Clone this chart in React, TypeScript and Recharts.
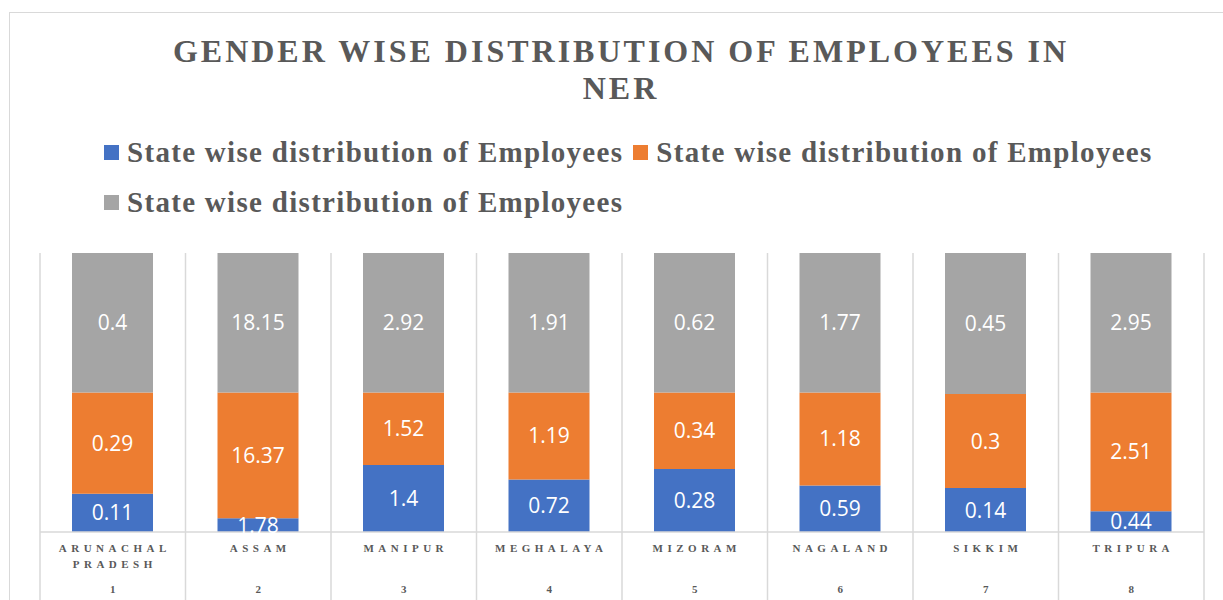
import React from "react"
import { Bar, BarChart, LabelList, Legend, XAxis, YAxis } from "recharts"

const states = ["ARUNACHAL PRADESH", "ASSAM", "MANIPUR", "MEGHALAYA", "MIZORAM", "NAGALAND", "SIKKIM", "TRIPURA"]
const ids = [1, 2, 3, 4, 5, 6, 7, 8]
const blueVals = [0.11, 1.78, 1.4, 0.72, 0.28, 0.59, 0.14, 0.44]
const orangeVals = [0.29, 16.37, 1.52, 1.19, 0.34, 1.18, 0.3, 2.51]
const grayVals = [0.4, 18.15, 2.92, 1.91, 0.62, 1.77, 0.45, 2.95]
const seriesName = "State wise distribution of Employees"

const data = states.map((s, i) => ({
  state: s,
  id: ids[i],
  blue: blueVals[i],
  orange: orangeVals[i],
  gray: grayVals[i],
}))

const W = 1223
const H = 600
const axisHeight = 30
const margin = { top: 253, right: 19, bottom: 68 - axisHeight, left: 40 }
const plotTop = margin.top
const plotBottom = H - margin.bottom - axisHeight
const band = (W - margin.left - margin.right) / states.length
const gridColor = "#d9d9d9"
const textColor = "#595959"
const serif = "'Liberation Serif', 'Times New Roman', serif"

const AxisTick = (props: any) => {
  const { x, payload, index } = props
  const i = payload?.index ?? index ?? 0
  const words = String(payload.value).split(" ")
  const left = x - band / 2
  return (
    <g>
      <line x1={left} x2={left} y1={plotTop} y2={H} stroke={gridColor} strokeWidth={1.5} />
      {i === states.length - 1 && (
        <line x1={x + band / 2} x2={x + band / 2} y1={plotTop} y2={H} stroke={gridColor} strokeWidth={1.5} />
      )}
      <text textAnchor="middle" fontFamily={serif} fontWeight="bold" fontSize={11} fill={textColor} letterSpacing={4.5}>
        {words.map((w, k) => (
          <tspan key={k} x={x + 2} y={plotBottom + 20 + k * 16}>
            {w}
          </tspan>
        ))}
      </text>
      <text x={x} y={plotBottom + 61} textAnchor="middle" fontFamily={serif} fontWeight="bold" fontSize={11} fill={textColor}>
        {ids[i]}
      </text>
    </g>
  )
}

const LegendContent = (props: any) => {
  const items = props.payload || []
  return (
    <div style={{ display: "flex", flexWrap: "wrap", width: 1070 }}>
      {items.map((it: any, k: number) => (
        <div key={k} style={{ display: "flex", alignItems: "center", height: 50, marginRight: 10 }}>
          <span style={{ display: "inline-block", width: 15, height: 15, background: it.color, marginRight: 8 }} />
          <span style={{ fontFamily: serif, fontWeight: "bold", fontSize: 29, letterSpacing: 1.3, color: textColor, lineHeight: "50px" }}>
            {it.value}
          </span>
        </div>
      ))}
    </div>
  )
}

const labelStyle = { fill: "#ffffff", fontSize: 21, fontFamily: "'Open Sans', sans-serif" }

export default function App() {
  return (
    <div style={{ position: "absolute", left: 0, top: 0, width: W, height: H, overflow: "hidden", background: "#fff" }}>
      <div
        style={{
          position: "absolute",
          left: 9,
          top: 12,
          width: 1400,
          height: 800,
          borderTop: `1.5px solid ${gridColor}`,
          borderLeft: `1.5px solid ${gridColor}`,
        }}
      />
      <div
        style={{
          position: "absolute",
          left: 151,
          top: 33,
          width: 940,
          textAlign: "center",
          fontFamily: serif,
          fontWeight: "bold",
          fontSize: 32,
          letterSpacing: 3,
          lineHeight: "37px",
          color: textColor,
        }}
      >
        GENDER WISE DISTRIBUTION OF EMPLOYEES IN NER
      </div>
      <BarChart width={W} height={H} data={data} margin={margin} stackOffset="expand" barSize={81}>
        <XAxis
          dataKey="state"
          height={axisHeight}
          tick={<AxisTick />}
          tickLine={false}
          axisLine={{ stroke: gridColor, strokeWidth: 1.5 }}
          interval={0}
        />
        <YAxis hide domain={[0, 1]} />
        <Legend
          layout="horizontal"
          verticalAlign="middle"
          align="center"
          content={<LegendContent />}
          wrapperStyle={{ position: "absolute", top: 127, left: 104, width: 1070 }}
        />
        <Bar dataKey="blue" name={seriesName} stackId="a" fill="#4472C4" isAnimationActive={false}>
          <LabelList dataKey="blue" position="center" style={labelStyle} />
        </Bar>
        <Bar dataKey="orange" name={seriesName} stackId="a" fill="#ED7D31" isAnimationActive={false}>
          <LabelList dataKey="orange" position="center" style={labelStyle} />
        </Bar>
        <Bar dataKey="gray" name={seriesName} stackId="a" fill="#A5A5A5" isAnimationActive={false}>
          <LabelList dataKey="gray" position="center" style={labelStyle} />
        </Bar>
      </BarChart>
    </div>
  )
}
